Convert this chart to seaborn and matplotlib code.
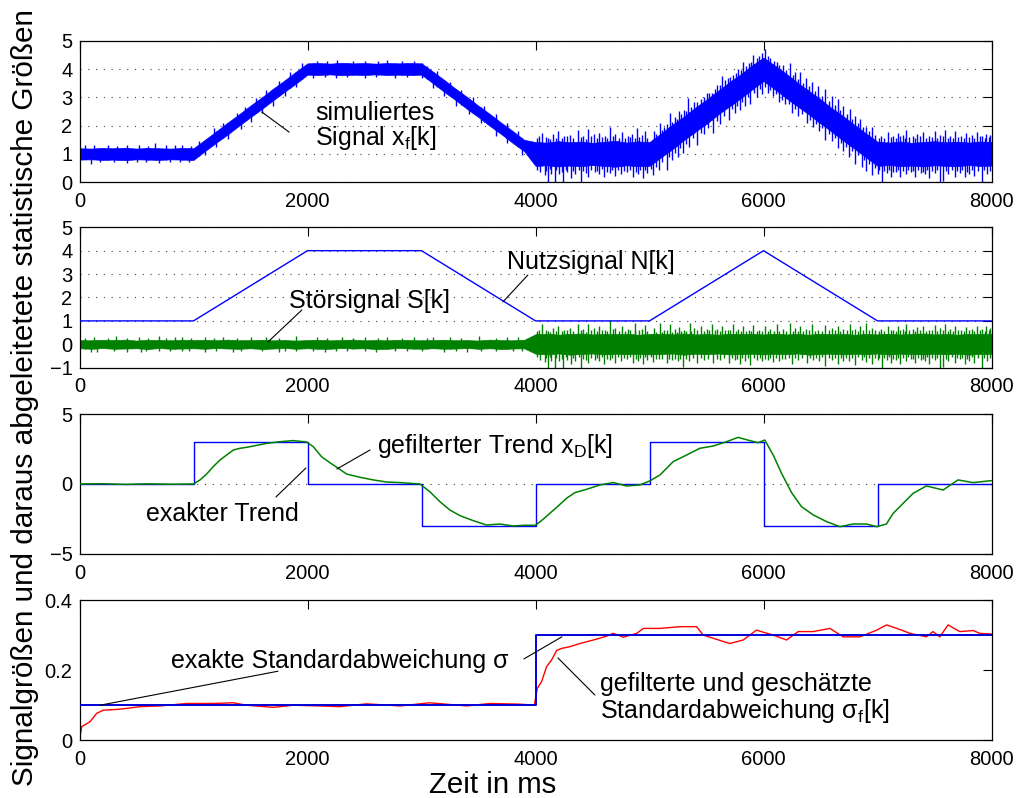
import numpy as np
import matplotlib
matplotlib.use("Agg")
import matplotlib.pyplot as plt
import seaborn as sns

# ---------------- data ----------------
# sample grid of the envelope arrays (ms)
t_grid = np.arange(0, 8001, 100)

# simulated signal x_f[k] = N[k] + S[k]: dense core of the noise band
xf_upper = [1.20, 1.19, 1.21, 1.20, 1.22, 1.19, 1.21, 1.20, 1.19, 1.21, 1.20,
            1.50, 1.80, 2.11, 2.40, 2.71, 3.00, 3.31, 3.60, 3.91,
            4.20, 4.21, 4.19, 4.22, 4.20, 4.21, 4.19, 4.21, 4.20, 4.21, 4.20,
            3.91, 3.61, 3.30, 3.01, 2.70, 2.41, 2.10, 1.81, 1.50,
            1.42, 1.40, 1.45, 1.41, 1.44, 1.39, 1.43, 1.46, 1.40, 1.44, 1.42,
            1.72, 2.03, 2.31, 2.63, 2.92, 3.22, 3.53, 3.81, 4.13,
            4.40,
            4.12, 3.83, 3.51, 3.22, 2.93, 2.61, 2.33, 2.02, 1.72,
            1.43, 1.40, 1.44, 1.39, 1.42, 1.45, 1.41, 1.43, 1.40, 1.44, 1.42]
xf_lower = [0.80, 0.81, 0.79, 0.80, 0.78, 0.81, 0.80, 0.79, 0.81, 0.80, 0.79,
            1.10, 1.40, 1.69, 2.00, 2.30, 2.59, 2.90, 3.20, 3.49,
            3.80, 3.79, 3.81, 3.78, 3.80, 3.79, 3.81, 3.79, 3.80, 3.79, 3.80,
            3.50, 3.19, 2.90, 2.59, 2.30, 1.99, 1.70, 1.39, 1.10,
            0.58, 0.60, 0.56, 0.59, 0.57, 0.61, 0.58, 0.55, 0.60, 0.57, 0.58,
            0.88, 1.17, 1.49, 1.78, 2.07, 2.39, 2.68, 2.97, 3.28,
            3.58,
            3.28, 2.97, 2.68, 2.39, 2.08, 1.78, 1.47, 1.18, 0.88,
            0.58, 0.61, 0.57, 0.59, 0.56, 0.60, 0.58, 0.57, 0.61, 0.58, 0.59]
# single outlying samples of x_f[k] (time in ms, value)
xf_peaks = [(50, 1.30), (130, 1.32), (250, 1.31), (330, 1.29), (420, 1.30), (520, 1.31),
            (600, 1.29), (660, 1.37), (760, 1.30), (840, 1.32), (900, 1.31), (980, 1.29),
            (1050, 1.45), (1180, 1.92), (1260, 2.10), (1380, 2.45), (1450, 2.65), (1550, 2.98),
            (1640, 3.25), (1750, 3.58), (1850, 3.90), (1950, 4.22), (2080, 4.30), (2170, 4.29),
            (2260, 4.31), (2400, 4.30), (2500, 4.29), (2620, 4.28), (2700, 4.31), (2830, 4.29),
            (2930, 4.30), (3050, 4.12), (3140, 3.92), (3250, 3.55), (3350, 3.25), (3450, 3.02),
            (3550, 2.70), (3650, 2.40), (3750, 2.10), (3850, 1.80),
            (4030, 1.62), (4060, 1.75), (4110, 1.58), (4150, 1.70), (4200, 1.80), (4250, 1.62),
            (4300, 1.68), (4374, 1.85), (4420, 1.65), (4462, 1.87), (4510, 1.70), (4560, 1.75),
            (4610, 1.62), (4652, 1.96), (4700, 1.70), (4760, 1.78), (4810, 1.64), (4850, 1.72),
            (4887, 1.90), (4930, 1.66), (4960, 1.80), (5040, 1.80), (5091, 2.08), (5130, 1.95),
            (5180, 2.43), (5220, 2.30), (5260, 2.50), (5300, 2.55), (5339, 2.96), (5390, 2.85),
            (5450, 2.95), (5500, 3.15), (5544, 3.14), (5590, 3.45), (5640, 3.75), (5690, 3.70),
            (5734, 3.80), (5780, 4.00), (5820, 4.25), (5870, 4.20), (5910, 4.49), (5960, 4.45),
            (6017, 4.70), (6060, 4.40), (6114, 4.26), (6170, 4.15), (6231, 4.20), (6280, 3.90),
            (6320, 3.90), (6370, 3.70), (6421, 3.55), (6480, 3.40), (6540, 3.30), (6600, 3.05),
            (6650, 2.95), (6700, 2.70), (6760, 2.60), (6800, 2.35), (6850, 2.25), (6903, 1.96),
            (6950, 1.95), (7030, 1.65), (7093, 1.79), (7140, 1.62), (7180, 1.75), (7220, 1.66),
            (7254, 1.85), (7310, 1.64), (7350, 1.72), (7400, 1.78), (7450, 1.63), (7500, 1.80),
            (7550, 1.68), (7590, 1.85), (7640, 1.65), (7680, 1.80), (7730, 1.62), (7780, 1.75),
            (7830, 1.66), (7870, 1.78), (7920, 1.64), (7955, 1.72), (7990, 1.68)]
xf_peaks_small = [(4015, 1.55), (4090, 1.60), (4130, 1.52), (4180, 1.58), (4230, 1.55),
                  (4275, 1.63), (4330, 1.56), (4400, 1.60), (4440, 1.54), (4485, 1.62),
                  (4535, 1.57), (4585, 1.60), (4630, 1.55), (4680, 1.64), (4730, 1.58),
                  (4785, 1.55), (4830, 1.61), (4870, 1.57), (4910, 1.60), (4980, 1.56),
                  (5060, 1.72), (5110, 1.85), (5155, 2.05), (5200, 2.12), (5240, 2.25),
                  (5280, 2.40), (5320, 2.52), (5365, 2.65), (5420, 2.85), (5475, 3.00),
                  (5520, 3.15), (5570, 3.30), (5615, 3.42), (5665, 3.60), (5710, 3.72),
                  (5760, 3.85), (5800, 3.98), (5850, 4.12), (5890, 4.25), (5940, 4.40),
                  (5990, 4.55), (6040, 4.45), (6090, 4.30), (6140, 4.15), (6200, 3.98),
                  (6255, 3.80), (6300, 3.66), (6345, 3.52), (6395, 3.40), (6450, 3.22),
                  (6510, 3.05), (6570, 2.88), (6625, 2.72), (6675, 2.55), (6730, 2.40),
                  (6780, 2.25), (6825, 2.10), (6875, 1.96), (6925, 1.82), (6975, 1.66),
                  (7015, 1.58), (7060, 1.55), (7115, 1.60), (7160, 1.56), (7200, 1.62),
                  (7240, 1.55), (7280, 1.60), (7330, 1.57), (7375, 1.63), (7425, 1.55),
                  (7475, 1.60), (7525, 1.56), (7570, 1.62), (7615, 1.58), (7660, 1.55),
                  (7705, 1.61), (7755, 1.57), (7805, 1.60), (7850, 1.55), (7895, 1.62),
                  (7940, 1.57), (7975, 1.60)]
xf_dips = [(100, 0.66), (180, 0.70), (300, 0.71), (415, 0.67), (500, 0.70), (580, 0.72),
           (700, 0.68), (790, 0.71), (880, 0.70), (960, 0.70), (1100, 0.98), (1200, 1.26),
           (1300, 1.52), (1420, 1.88), (1500, 2.14), (1600, 2.45), (1700, 2.70), (1800, 3.05),
           (1900, 3.35), (2050, 3.70), (2150, 3.72), (2250, 3.68), (2350, 3.71), (2500, 3.70),
           (2600, 3.72), (2770, 3.68), (2870, 3.71), (3000, 3.70), (3100, 3.33), (3200, 3.05),
           (3300, 2.70), (3420, 2.40), (3520, 2.10), (3650, 1.65), (3750, 1.40), (3880, 0.98),
           (4040, 0.35), (4080, 0.25), (4112, 0.0), (4140, 0.30), (4170, 0.0), (4210, 0.28),
           (4243, 0.0), (4280, 0.35), (4310, 0.15), (4350, 0.30), (4403, 0.0), (4440, 0.32),
           (4462, 0.20), (4520, 0.35), (4560, 0.28), (4600, 0.18), (4650, 0.33), (4700, 0.22),
           (4750, 0.30), (4800, 0.36), (4857, 0.20), (4900, 0.30), (4940, 0.15), (4980, 0.32),
           (5032, 0.25), (5080, 0.45), (5150, 0.45), (5200, 0.80), (5250, 0.90), (5290, 1.02),
           (5350, 1.25), (5420, 1.30), (5480, 1.70), (5560, 1.75), (5620, 2.05), (5700, 2.20),
           (5750, 2.45), (5792, 2.55), (5840, 2.70), (5880, 2.75), (5940, 3.00), (5990, 3.10),
           (6040, 3.15), (6080, 3.05), (6140, 2.85), (6190, 2.75), (6246, 2.44), (6300, 2.35),
           (6380, 2.10), (6430, 1.95), (6490, 1.80), (6539, 1.49), (6600, 1.45), (6650, 1.20),
           (6700, 1.10), (6750, 0.90), (6800, 0.65), (6860, 0.55), (6900, 0.40), (6950, 0.25),
           (7000, 0.30), (7036, 0.0), (7080, 0.32), (7120, 0.20), (7160, 0.35), (7196, 0.20),
           (7250, 0.30), (7290, 0.35), (7330, 0.18), (7380, 0.32), (7420, 0.28), (7450, 0.15),
           (7500, 0.33), (7547, 0.0), (7576, 0.05), (7620, 0.30), (7680, 0.20), (7720, 0.34),
           (7766, 0.20), (7800, 0.30), (7850, 0.22), (7913, 0.0), (7960, 0.30)]
xf_dips_small = [(4015, 0.45), (4090, 0.40), (4130, 0.46), (4180, 0.42), (4230, 0.38),
                 (4265, 0.44), (4330, 0.40), (4380, 0.45), (4420, 0.39), (4490, 0.43),
                 (4540, 0.40), (4580, 0.46), (4625, 0.38), (4675, 0.42), (4725, 0.45),
                 (4775, 0.40), (4825, 0.44), (4880, 0.38), (4920, 0.42), (4960, 0.45),
                 (5010, 0.48), (5055, 0.55), (5110, 0.72), (5175, 0.90), (5225, 1.05),
                 (5270, 1.20), (5320, 1.35), (5380, 1.55), (5450, 1.75), (5510, 1.90),
                 (5590, 2.15), (5650, 2.35), (5725, 2.60), (5770, 2.70), (5815, 2.85),
                 (5860, 3.00), (5915, 3.15), (5965, 3.30), (6015, 3.35), (6060, 3.25),
                 (6110, 3.10), (6165, 2.90), (6220, 2.75), (6275, 2.60), (6340, 2.40),
                 (6405, 2.20), (6460, 2.05), (6515, 1.90), (6570, 1.70), (6625, 1.55),
                 (6680, 1.38), (6725, 1.25), (6775, 1.10), (6830, 0.95), (6880, 0.80),
                 (6925, 0.65), (6975, 0.50), (7015, 0.42), (7060, 0.40), (7100, 0.45),
                 (7140, 0.38), (7180, 0.43), (7225, 0.40), (7270, 0.45), (7310, 0.39),
                 (7355, 0.42), (7400, 0.38), (7435, 0.45), (7480, 0.40), (7525, 0.43),
                 (7600, 0.39), (7650, 0.45), (7700, 0.40), (7740, 0.42), (7785, 0.38),
                 (7825, 0.44), (7880, 0.40), (7935, 0.43), (7985, 0.41)]

# useful signal N[k] (corner points)
n_t = [0, 1000, 2000, 3000, 4000, 5000, 6000, 7000, 8000]
n_v = [1, 1, 4, 4, 1, 1, 4, 1, 1]

# disturbance S[k]: dense core of the noise band
s_upper = [0.18, 0.17, 0.19, 0.18, 0.20, 0.16, 0.19, 0.18, 0.17, 0.19, 0.18,
           0.19, 0.17, 0.20, 0.17, 0.18, 0.19, 0.17, 0.18, 0.16,
           0.18, 0.19, 0.17, 0.18, 0.20, 0.17, 0.18, 0.17, 0.19, 0.18, 0.17,
           0.18, 0.19, 0.17, 0.18, 0.16, 0.20, 0.18, 0.17, 0.19,
           0.43, 0.45, 0.41, 0.44, 0.46, 0.42, 0.44, 0.43, 0.45, 0.41, 0.44,
           0.45, 0.42, 0.46, 0.42, 0.44, 0.41, 0.45, 0.43, 0.44, 0.42,
           0.45, 0.42, 0.44, 0.41, 0.45, 0.43, 0.44, 0.41, 0.44, 0.42,
           0.45, 0.42, 0.44, 0.46, 0.42, 0.44, 0.41, 0.44, 0.43, 0.45]
s_lower = [-0.17, -0.19, -0.16, -0.19, -0.18, -0.17, -0.20, -0.16, -0.19, -0.18, -0.17,
           -0.19, -0.16, -0.18, -0.19, -0.17, -0.20, -0.18, -0.16, -0.19,
           -0.17, -0.19, -0.19, -0.16, -0.18, -0.17, -0.20, -0.19, -0.16, -0.18, -0.19,
           -0.17, -0.19, -0.18, -0.16, -0.19, -0.17, -0.20, -0.18, -0.17,
           -0.40, -0.43, -0.39, -0.44, -0.41, -0.39, -0.43, -0.40, -0.42, -0.40, -0.43,
           -0.41, -0.39, -0.44, -0.40, -0.42, -0.39, -0.43, -0.41, -0.40, -0.43,
           -0.40, -0.42, -0.39, -0.44, -0.41, -0.40, -0.43, -0.40, -0.42, -0.39,
           -0.43, -0.40, -0.41, -0.43, -0.40, -0.42, -0.40, -0.44, -0.41, -0.40]
s_peaks = [(50, 0.28), (130, 0.30), (250, 0.27), (320, 0.35), (420, 0.29), (520, 0.31),
           (600, 0.27), (700, 0.34), (760, 0.28), (840, 0.31), (900, 0.30), (980, 0.26),
           (1100, 0.33), (1180, 0.29), (1260, 0.31), (1380, 0.27), (1500, 0.32), (1640, 0.30),
           (1750, 0.28), (1900, 0.35), (2080, 0.30), (2170, 0.27), (2300, 0.30), (2400, 0.29),
           (2500, 0.31), (2620, 0.27), (2700, 0.33), (2830, 0.29), (2930, 0.30), (3050, 0.28),
           (3100, 0.32), (3250, 0.30), (3350, 0.27), (3500, 0.34), (3650, 0.29), (3750, 0.31),
           (3850, 0.30),
           (4030, 0.62), (4060, 0.85), (4110, 0.58), (4150, 0.70), (4200, 0.80), (4250, 0.62),
           (4300, 0.68), (4374, 0.88), (4420, 0.65), (4462, 0.88), (4510, 0.70), (4560, 0.78),
           (4610, 0.62), (4652, 1.03), (4700, 0.70), (4760, 0.80), (4810, 0.64), (4871, 0.92),
           (4930, 0.66), (4960, 0.82), (5040, 0.68), (5091, 0.90), (5130, 0.60), (5180, 0.85),
           (5220, 0.65), (5260, 0.72), (5300, 0.62), (5354, 0.92), (5390, 0.68), (5450, 0.80),
           (5500, 0.65), (5544, 0.88), (5590, 0.66), (5640, 0.78), (5690, 0.63), (5734, 0.85),
           (5780, 0.66), (5820, 0.80), (5870, 0.60), (5910, 0.82), (5960, 0.62), (6017, 0.78),
           (6060, 0.64), (6114, 0.85), (6170, 0.66), (6231, 0.90), (6280, 0.70), (6320, 0.80),
           (6370, 0.66), (6421, 0.85), (6480, 0.62), (6540, 0.82), (6600, 0.68), (6650, 0.80),
           (6700, 0.64), (6760, 0.86), (6800, 0.66), (6850, 0.80), (6903, 0.90), (6950, 0.70),
           (7030, 0.65), (7093, 0.80), (7140, 0.62), (7180, 0.78), (7220, 0.66), (7254, 0.85),
           (7310, 0.64), (7350, 0.72), (7400, 0.80), (7450, 0.63), (7500, 0.82), (7550, 0.68),
           (7590, 0.88), (7640, 0.65), (7680, 0.80), (7730, 0.62), (7780, 0.76), (7830, 0.66),
           (7870, 0.80), (7920, 0.64), (7955, 0.78), (7990, 0.68)]
s_peaks_small = [(4015, 0.55), (4090, 0.60), (4130, 0.52), (4180, 0.58), (4230, 0.55),
                 (4275, 0.63), (4330, 0.56), (4400, 0.60), (4440, 0.54), (4485, 0.62),
                 (4535, 0.57), (4585, 0.60), (4630, 0.55), (4680, 0.64), (4730, 0.58),
                 (4785, 0.55), (4830, 0.61), (4870, 0.57), (4910, 0.60), (4980, 0.56),
                 (5060, 0.54), (5110, 0.52), (5155, 0.59), (5200, 0.52), (5240, 0.53),
                 (5280, 0.56), (5320, 0.56), (5365, 0.55), (5420, 0.59), (5475, 0.58),
                 (5520, 0.59), (5570, 0.59), (5615, 0.58), (5665, 0.61), (5710, 0.59),
                 (5760, 0.57), (5800, 0.58), (5850, 0.57), (5890, 0.58), (5940, 0.58),
                 (5990, 0.58), (6040, 0.57), (6090, 0.57), (6140, 0.57), (6200, 0.58),
                 (6255, 0.57), (6300, 0.56), (6345, 0.56), (6395, 0.59), (6450, 0.57),
                 (6510, 0.58), (6570, 0.59), (6625, 0.60), (6675, 0.58), (6730, 0.59),
                 (6780, 0.59), (6825, 0.58), (6875, 0.59), (6925, 0.60), (6975, 0.59),
                 (7015, 0.58), (7060, 0.55), (7115, 0.60), (7160, 0.56), (7200, 0.62),
                 (7240, 0.55), (7280, 0.60), (7330, 0.57), (7375, 0.63), (7425, 0.55),
                 (7475, 0.60), (7525, 0.56), (7570, 0.62), (7615, 0.58), (7660, 0.55),
                 (7705, 0.61), (7755, 0.57), (7805, 0.60), (7850, 0.55), (7895, 0.62),
                 (7940, 0.57), (7975, 0.60)]
s_dips = [(100, -0.32), (150, -0.33), (300, -0.28), (415, -0.31), (540, -0.34), (580, -0.27),
          (700, -0.30), (790, -0.28), (900, -0.30), (960, -0.29), (1100, -0.31), (1200, -0.27),
          (1350, -0.33), (1420, -0.29), (1600, -0.30), (1750, -0.32), (1800, -0.28), (1900, -0.30),
          (2050, -0.29), (2150, -0.31), (2250, -0.30), (2350, -0.27), (2500, -0.30), (2600, -0.34),
          (2770, -0.29), (2870, -0.28), (3000, -0.30), (3200, -0.31), (3300, -0.27), (3400, -0.32),
          (3520, -0.29), (3650, -0.30), (3800, -0.30), (3880, -0.28),
          (4040, -0.65), (4080, -0.75), (4112, -1.0), (4140, -0.70), (4170, -1.0), (4210, -0.72),
          (4243, -1.0), (4280, -0.65), (4310, -0.85), (4350, -0.70), (4403, -1.0), (4440, -0.68),
          (4462, -0.80), (4520, -0.65), (4560, -0.72), (4600, -0.82), (4650, -0.67), (4700, -0.78),
          (4750, -0.70), (4800, -0.64), (4857, -0.80), (4900, -0.70), (4940, -0.85), (4980, -0.68),
          (5032, -0.75), (5080, -0.62), (5150, -0.80), (5200, -0.66), (5250, -0.72), (5296, -0.95),
          (5350, -0.70), (5420, -0.80), (5480, -0.66), (5560, -0.78), (5620, -0.68), (5700, -0.80),
          (5750, -0.66), (5792, -0.82), (5840, -0.70), (5880, -0.88), (5940, -0.68), (5990, -0.72),
          (6040, -0.66), (6080, -0.75), (6140, -0.70), (6190, -0.64), (6246, -0.82), (6300, -0.68),
          (6380, -0.80), (6430, -0.66), (6490, -0.72), (6539, -0.92), (6600, -0.68), (6650, -0.85),
          (6700, -0.70), (6750, -0.72), (6800, -0.90), (6860, -0.66), (6900, -0.75), (6950, -0.85),
          (7000, -0.68), (7036, -1.0), (7080, -0.66), (7120, -0.80), (7160, -0.65), (7196, -0.82),
          (7250, -0.70), (7290, -0.64), (7330, -0.80), (7380, -0.68), (7420, -0.72), (7450, -0.85),
          (7500, -0.66), (7547, -1.0), (7576, -0.95), (7620, -0.70), (7680, -0.80), (7720, -0.64),
          (7766, -0.82), (7800, -0.70), (7850, -0.78), (7913, -1.0), (7960, -0.70)]
s_dips_small = [(4015, -0.55), (4090, -0.60), (4130, -0.54), (4180, -0.58), (4230, -0.62),
                (4265, -0.56), (4330, -0.60), (4380, -0.55), (4420, -0.61), (4490, -0.57),
                (4540, -0.60), (4580, -0.54), (4625, -0.62), (4675, -0.58), (4725, -0.55),
                (4775, -0.60), (4825, -0.56), (4880, -0.62), (4920, -0.58), (4960, -0.55),
                (5010, -0.55), (5055, -0.62), (5110, -0.61), (5175, -0.62), (5225, -0.62),
                (5270, -0.61), (5320, -0.61), (5380, -0.59), (5450, -0.60), (5510, -0.63),
                (5590, -0.62), (5650, -0.60), (5725, -0.58), (5770, -0.61), (5815, -0.59),
                (5860, -0.58), (5915, -0.60), (5965, -0.60), (6015, -0.61), (6060, -0.57),
                (6110, -0.57), (6165, -0.61), (6220, -0.59), (6275, -0.58), (6340, -0.58),
                (6405, -0.59), (6460, -0.57), (6515, -0.56), (6570, -0.59), (6625, -0.58),
                (6680, -0.58), (6725, -0.58), (6775, -0.58), (6830, -0.56), (6880, -0.56),
                (6925, -0.58), (6975, -0.58), (7015, -0.58), (7060, -0.60), (7100, -0.55),
                (7140, -0.62), (7180, -0.57), (7225, -0.60), (7270, -0.55), (7310, -0.61),
                (7355, -0.58), (7400, -0.62), (7435, -0.55), (7480, -0.60), (7525, -0.57),
                (7600, -0.61), (7650, -0.55), (7700, -0.60), (7740, -0.58), (7785, -0.62),
                (7825, -0.56), (7880, -0.60), (7935, -0.57), (7985, -0.59)]

# exact trend (piecewise constant) and filtered trend x_D[k]
exact_trend_t = [0, 1000, 2000, 3000, 4000, 5000, 6000, 7000, 8000]
exact_trend_v = [0, 3, 0, -3, 0, 3, -3, 0, 0]
xd_t = [0, 200, 400, 600, 800, 1000, 1057, 1115, 1173, 1232,
        1290, 1350, 1408, 1466, 1524, 1641, 1758, 1875, 1992, 2050,
        2123, 2197, 2270, 2343, 2460, 2577, 2694, 2811, 2986, 3073,
        3161, 3249, 3337, 3454, 3570, 3687, 3804, 3900, 4000, 4067,
        4125, 4199, 4272, 4345, 4448, 4565, 4682, 4798, 4915, 5000,
        5091, 5208, 5325, 5441, 5558, 5675, 5777, 5879, 5952, 6011,
        6085, 6158, 6246, 6333, 6436, 6553, 6670, 6787, 6904, 6992,
        7078, 7137, 7225, 7312, 7429, 7575, 7706, 7838, 8000]
xd_v = [0, 0.02, -0.03, 0.01, -0.02, 0.0, 0.29, 0.71, 1.24, 1.71,
        2.07, 2.43, 2.55, 2.62, 2.71, 2.90, 3.02, 3.10, 3.00, 2.67,
        1.95, 1.52, 1.12, 0.71, 0.48, 0.29, 0.14, 0.10, 0.0, -0.55,
        -1.26, -1.86, -2.26, -2.62, -2.93, -2.86, -3.0, -2.95, -2.95, -2.52,
        -2.10, -1.57, -1.02, -0.62, -0.38, -0.07, 0.10, -0.14, -0.07, 0.21,
        0.64, 1.60, 2.07, 2.55, 2.71, 3.02, 3.33, 3.10, 2.95, 3.14,
        2.07, 0.76, -0.62, -1.62, -2.21, -2.69, -3.05, -2.86, -2.86, -3.05,
        -2.86, -2.10, -1.38, -0.67, -0.14, -0.43, 0.29, 0.10, 0.24]

# exact and estimated standard deviation
sigma_t = [0, 4000, 8000]
sigma_v = [0.1, 0.3, 0.3]
sigf_t = [0, 19, 92, 151, 209, 326, 414, 530, 706, 940,
          1174, 1349, 1466, 1700, 1875, 2109, 2284, 2518, 2811, 3073,
          3395, 3600, 3864, 3990, 4015, 4053, 4097, 4141, 4185, 4229,
          4302, 4390, 4507, 4624, 4682, 4770, 4887, 4946, 5091, 5266,
          5413, 5471, 5558, 5704, 5821, 5938, 6085, 6202, 6304, 6436,
          6582, 6699, 6845, 6992, 7079, 7196, 7283, 7429, 7487, 7546,
          7619, 7721, 7838, 7897, 8000]
sigf_v = [0, 0.039, 0.053, 0.077, 0.086, 0.088, 0.091, 0.096, 0.098, 0.105,
          0.105, 0.107, 0.100, 0.094, 0.100, 0.098, 0.096, 0.104, 0.098, 0.107,
          0.098, 0.105, 0.103, 0.100, 0.148, 0.167, 0.210, 0.229, 0.256, 0.262,
          0.267, 0.276, 0.286, 0.297, 0.305, 0.294, 0.305, 0.319, 0.319, 0.324,
          0.324, 0.300, 0.291, 0.276, 0.286, 0.314, 0.300, 0.286, 0.310, 0.310,
          0.319, 0.295, 0.295, 0.314, 0.329, 0.316, 0.305, 0.295, 0.310, 0.295,
          0.329, 0.310, 0.313, 0.305, 0.303]

x_ticks = [0, 2000, 4000, 6000, 8000]

# ---------------- style ----------------
sns.set_style("white")
plt.rcParams["font.family"] = ["Liberation Sans", "DejaVu Sans"]
plt.rcParams["mathtext.fontset"] = "custom"
plt.rcParams["mathtext.rm"] = "Liberation Sans"
plt.rcParams["mathtext.it"] = "Liberation Sans"
plt.rcParams["mathtext.default"] = "regular"
plt.rcParams["axes.unicode_minus"] = True
for key in ("text.color", "axes.labelcolor", "xtick.color", "ytick.color",
            "axes.edgecolor"):
    plt.rcParams[key] = "black"

BLUE = (0, 0, 1)
GREEN = (0, 0.5, 0)
RED = (1, 0, 0)
TICK_FS = 14.5
NOTE_FS = 18

fig = plt.figure(figsize=(10.18, 7.98), dpi=100)
left, width = 0.0781, 0.8959
rects = [(left, 0.7716, width, 0.1774),
         (left, 0.5392, width, 0.1760),
         (left, 0.3058, width, 0.1754),
         (left, 0.0723, width, 0.1758)]
axes = [fig.add_axes(r) for r in rects]


def frame(ax, ylim, yticks, ygrid=True):
    ax.set_xlim(0, 8000)
    ax.set_ylim(*ylim)
    ax.set_xticks(x_ticks)
    ax.set_yticks(yticks)
    ax.tick_params(direction="in", length=6.5, width=0.8, top=True, right=True,
                   labelsize=TICK_FS, color="black", labelcolor="black")
    ax.tick_params(axis="x", pad=7)
    ax.tick_params(axis="y", pad=5)
    for s in ax.spines.values():
        s.set_visible(True)
        s.set_color("black")
        s.set_linewidth(0.9)
    if ygrid:
        ax.yaxis.grid(True, linestyle=(0, (1, 6)), color="0.25", linewidth=0.8)
    ax.xaxis.grid(False)
    ax.set_axisbelow(True)
    ax.set_xlabel("")
    ax.set_ylabel("")


def noise_band(ax, upper, lower, peaks, dips, color):
    ax.fill_between(t_grid, lower, upper, color=color, linewidth=0.5,
                    edgecolor=color, zorder=2)
    pk_t, pk_v = map(np.array, zip(*peaks))
    dp_t, dp_v = map(np.array, zip(*dips))
    ax.vlines(pk_t, np.interp(pk_t, t_grid, lower), pk_v, color=color,
              linewidth=1.0, zorder=2)
    ax.vlines(dp_t, dp_v, np.interp(dp_t, t_grid, upper), color=color,
              linewidth=1.0, zorder=2)


def note_line(ax, p0, p1):
    ax.annotate("", xy=p1, xytext=p0,
                arrowprops=dict(arrowstyle="-", color="black", lw=0.8,
                                shrinkA=0, shrinkB=0))


# panel 1: simulated signal
ax = axes[0]
noise_band(ax, xf_upper, xf_lower, xf_peaks + xf_peaks_small,
           xf_dips + xf_dips_small, BLUE)
frame(ax, (0, 5), [0, 1, 2, 3, 4, 5])
ax.text(2065, 1.31, "simuliertes\n" + r"Signal x$_{f}$[k]", fontsize=NOTE_FS,
        ha="left", va="baseline", linespacing=0.98)
note_line(ax, (1600, 2.48), (1839, 1.77))

# panel 2: useful signal and disturbance
ax = axes[1]
noise_band(ax, s_upper, s_lower, s_peaks + s_peaks_small, s_dips + s_dips_small, GREEN)
sns.lineplot(x=n_t, y=n_v, ax=ax, color=BLUE, linewidth=1.0, estimator=None,
             sort=False, zorder=3)
frame(ax, (-1, 5), [-1, 0, 1, 2, 3, 4, 5])
ax.text(3749, 3.22, "Nutzsignal N[k]", fontsize=NOTE_FS, ha="left", va="baseline")
note_line(ax, (3714, 1.81), (3933, 2.96))
ax.text(1837, 1.54, "Störsignal S[k]", fontsize=NOTE_FS, ha="left", va="baseline")
note_line(ax, (1653, 0.10), (1951, 1.47))

# panel 3: exact and filtered trend
ax = axes[2]
sns.lineplot(x=exact_trend_t, y=exact_trend_v, ax=ax, color=BLUE, linewidth=1.0,
             estimator=None, sort=False, drawstyle="steps-post", zorder=2)
sns.lineplot(x=xd_t, y=xd_v, ax=ax, color=GREEN, linewidth=1.1, estimator=None,
             sort=False, zorder=3)
frame(ax, (-5, 5), [-5, 0, 5])
ax.text(2609, 2.19, r"gefilterter Trend x$_{D}$[k]", fontsize=NOTE_FS,
        ha="left", va="baseline")
note_line(ax, (2258, 1.07), (2548, 2.43))
ax.text(583, -2.62, "exakter Trend", fontsize=NOTE_FS, ha="left", va="baseline")
note_line(ax, (1723, -0.93), (1986, 1.14))

# panel 4: standard deviation
ax = axes[3]
sns.lineplot(x=sigf_t, y=sigf_v, ax=ax, color=RED, linewidth=1.0, estimator=None,
             sort=False, zorder=2)
sns.lineplot(x=sigma_t, y=sigma_v, ax=ax, color=(0, 0, 0.85), linewidth=1.4,
             estimator=None, sort=False, drawstyle="steps-post", zorder=3)
frame(ax, (0, 0.4), [0, 0.2, 0.4], ygrid=False)
ax.set_yticklabels(["0", "0.2", "0.4"])
ax.text(803, 0.205, "exakte Standardabweichung σ", fontsize=NOTE_FS,
        ha="left", va="baseline")
note_line(ax, (180, 0.100), (1741, 0.197))
note_line(ax, (3898, 0.232), (4231, 0.295))
ax.text(4565, 0.063, "gefilterte und geschätzte\n" + r"Standardabweichung σ$_{f}$[k]",
        fontsize=NOTE_FS, ha="left", va="baseline", linespacing=1.05)
note_line(ax, (4196, 0.235), (4521, 0.129))

for a in axes[:3]:
    a.set_yticklabels([f"{v:g}".replace("-", "\u2212") for v in a.get_yticks()])

fig.text(0.0246, 0.502, "Signalgrößen und daraus abgeleitetete statistische Größen",
         rotation=90, ha="center", va="center", fontsize=21.4)
fig.text(0.4838, 0.006, "Zeit in ms", ha="center", va="baseline", fontsize=21.2)

fig.savefig("out.png", dpi=100)
